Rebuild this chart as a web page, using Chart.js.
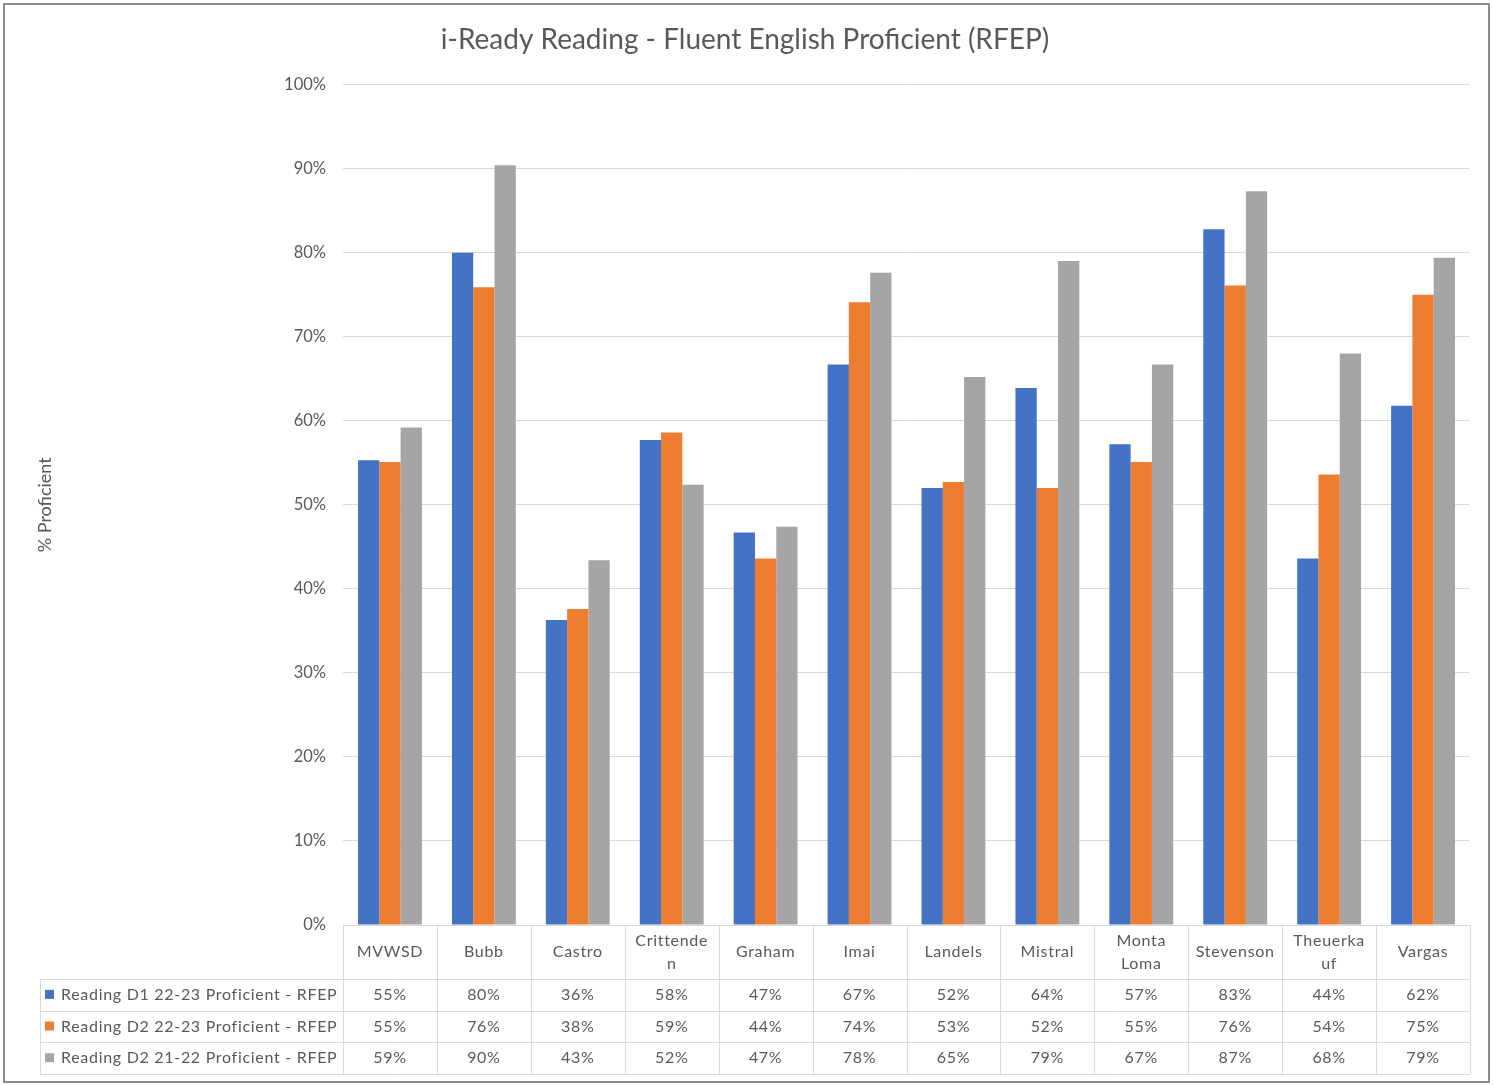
<!DOCTYPE html>
<html>
<head>
<meta charset="utf-8">
<title>i-Ready Reading - RFEP</title>
<script src="https://cdn.jsdelivr.net/npm/chart.js@4/dist/chart.umd.min.js"></script>
<style>
  html, body { margin: 0; padding: 0; background: #fff; }
  #wrap { width: 1493px; height: 1085px; }
</style>
</head>
<body>
<div id="wrap"><canvas id="chart" width="1493" height="1085"></canvas></div>
<script>
// schools, one column each in the table
const schools = [
  "MVWSD", "Bubb", "Castro", ["Crittende", "n"], "Graham", "Imai",
  "Landels", "Mistral", ["Monta", "Loma"], "Stevenson", ["Theuerka", "uf"], "Vargas",
]

const seriesNames = [
  "Reading D1 22-23 Proficient - RFEP",
  "Reading D2 22-23 Proficient - RFEP",
  "Reading D2 21-22 Proficient - RFEP",
]

// % proficient
const d1_2223 = [55.3, 80.0, 36.3, 57.7, 46.7, 66.7, 52.0, 63.9, 57.2, 82.8, 43.6, 61.8]
const d2_2223 = [55.1, 75.9, 37.6, 58.6, 43.6, 74.1, 52.7, 52.0, 55.1, 76.1, 53.6, 75.0]
const d2_2122 = [59.2, 90.4, 43.4, 52.4, 47.4, 77.6, 65.2, 79.0, 66.7, 87.3, 68.0, 79.4]

const colors = ["#4472c4", "#ed7d31", "#a5a5a5"]
const textColor = "#595959"
const lineColor = "#d9d9d9"
const fontFamily = "Lato, 'Open Sans', sans-serif"

// data table under the plot, drawn against the x scale
const dataTable = {
  id: "dataTable",
  beforeDraw(chart) {
    const { ctx } = chart
    ctx.save()
    ctx.fillStyle = "#fff"
    ctx.fillRect(0, 0, chart.width, chart.height)
    ctx.strokeStyle = "#8c8c8c"
    ctx.lineWidth = 2
    ctx.strokeRect(4, 4, chart.width - 8, chart.height - 7)
    ctx.restore()
  },
  afterDraw(chart) {
    const { ctx, chartArea } = chart
    const x = chart.scales.x
    const n = schools.length
    const cw = (chartArea.right - chartArea.left) / n
    const top = chartArea.bottom
    const headBottom = top + 54
    const rowH = 31.7
    const tableLeft = 40
    const bottom = headBottom + rowH * 3

    ctx.save()
    ctx.strokeStyle = lineColor
    ctx.lineWidth = 1

    // vertical lines
    for (let i = 0; i <= n; i++) {
      const px = Math.round(chartArea.left + cw * i) + 0.5
      ctx.beginPath()
      ctx.moveTo(px, top)
      ctx.lineTo(px, bottom)
      ctx.stroke()
    }
    ctx.beginPath()
    ctx.moveTo(tableLeft + 0.5, headBottom)
    ctx.lineTo(tableLeft + 0.5, bottom)
    ctx.stroke()

    // horizontal lines
    for (let r = 0; r <= 3; r++) {
      const py = Math.round(headBottom + rowH * r) + 0.5
      ctx.beginPath()
      ctx.moveTo(tableLeft, py)
      ctx.lineTo(chartArea.right, py)
      ctx.stroke()
    }

    ctx.fillStyle = textColor
    ctx.font = "16px " + fontFamily
    ctx.letterSpacing = "0.7px"
    ctx.textAlign = "center"
    ctx.textBaseline = "middle"

    // header: school names
    schools.forEach((s, i) => {
      const cx = x.getPixelForValue(i)
      if (Array.isArray(s)) {
        ctx.fillText(s[0], cx, top + 16)
        ctx.fillText(s[1], cx, top + 39)
      } else {
        ctx.fillText(s, cx, top + 27)
      }
    })

    // rows
    chart.data.datasets.forEach((ds, r) => {
      const cy = headBottom + rowH * r + rowH / 2
      ctx.fillStyle = ds.backgroundColor
      ctx.fillRect(45, cy - 5, 9, 9)
      ctx.fillStyle = textColor
      ctx.textAlign = "left"
      ctx.fillText(ds.label, 61, cy)
      ctx.textAlign = "center"
      ds.data.forEach((v, i) => {
        ctx.fillText(Math.round(v) + "%", x.getPixelForValue(i), cy)
      })
    })
    ctx.restore()
  },
}

new Chart(document.getElementById("chart"), {
  type: "bar",
  data: {
    labels: schools.map((s) => (Array.isArray(s) ? s.join("") : s)),
    datasets: [d1_2223, d2_2223, d2_2122].map((d, i) => ({
      label: seriesNames[i],
      data: d,
      backgroundColor: colors[i],
      borderWidth: 0,
      categoryPercentage: 0.68,
      barPercentage: 1,
    })),
  },
  options: {
    responsive: false,
    animation: false,
    layout: { padding: { left: 20, right: 23, top: 0, bottom: 160 } },
    plugins: {
      legend: { display: false },
      tooltip: { enabled: false },
      title: {
        display: true,
        text: "i-Ready Reading - Fluent English Proficient (RFEP)",
        color: textColor,
        font: { family: fontFamily, size: 28, weight: "normal" },
        padding: { top: 23, bottom: 28 },
      },
    },
    scales: {
      x: { display: false },
      y: {
        min: 0,
        max: 100,
        afterFit(scale) { scale.width = 323 },
        ticks: {
          stepSize: 10,
          color: textColor,
          font: { family: fontFamily, size: 16.5 },
          padding: 17,
          callback: (v) => v + "%",
        },
        grid: { color: lineColor, drawTicks: false },
        border: { display: false },
        title: {
          display: true,
          text: "% Proficient",
          color: textColor,
          font: { family: fontFamily, size: 18 },
          padding: { top: 14, bottom: 0 },
        },
      },
    },
  },
  plugins: [dataTable],
})
</script>
</body>
</html>
